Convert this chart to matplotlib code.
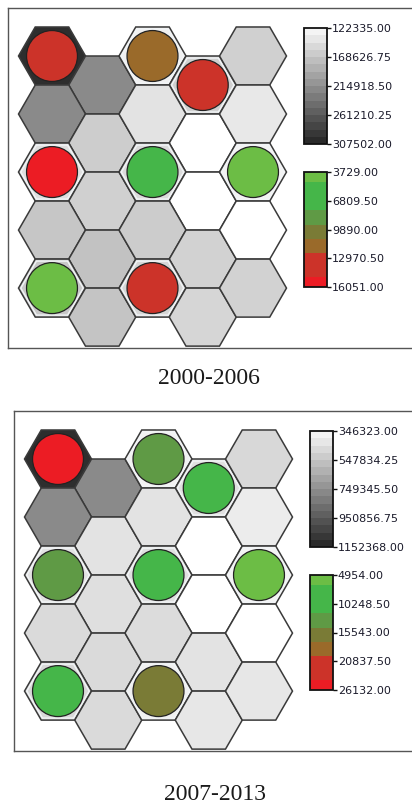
import numpy as np
import matplotlib
matplotlib.use("Agg")
import matplotlib.pyplot as plt
from matplotlib.patches import RegularPolygon, Circle
from matplotlib.colors import LinearSegmentedColormap, ListedColormap, Normalize

# --- data -------------------------------------------------------------
periods = ["2000-2006", "2007-2013"]

# distance (gray) range per period
gray_range_1 = (122335.00, 307502.00)
gray_range_2 = (346323.00, 1152368.00)

# count (green-red) range per period
count_range_1 = (3729.00, 16051.00)
count_range_2 = (4954.00, 26132.00)

# node distance values, rows x cols (None = empty node)
gray_1 = [
    [303800, 219500, 126000, 155300, 155300],
    [219500, 158100, 137900, None,   133300],
    [142500, 155300, 146200, None,   123500],
    [164500, 168200, 159000, 153500, None],
    [162700, 166400, 150000, 150000, 153500],
]
gray_2 = [
    [1136200, 769500, 354400, 426100, 458200],
    [769500,  418100, 418100, None,   378600],
    [418100,  434200, 426100, None,   348000],
    [450300,  450300, 442200, 418100, None],
    [458200,  450300, 362400, 402000, 402000],
]

# node hit counts, rows x cols (None = no circle)
count_1 = [
    [13600, None, 11700, 13900, None],
    [None,  None, None,  None,  None],
    [15800, None, 6200,  None,  4000],
    [None,  None, None,  None,  None],
    [4100,  None, 13200, None,  None],
]
count_2 = [
    [25600, None, 13200, 8500, None],
    [None,  None, None,  None, None],
    [13400, None, 8800,  None, 5800],
    [None,  None, None,  None, None],
    [9200,  None, 16000, None, None],
]

# --- colour maps --------------------------------------------------------
gray_cmap = LinearSegmentedColormap.from_list("dist", ["#f4f4f4", "#2a2a2a"])
count_colors = (["#6cbd45"] * 2 + ["#45b649"] * 6 + ["#5f9a45"] * 3 +
                ["#7a7b36"] * 3 + ["#9a6a2a"] * 3 + ["#cc3329"] * 5 +
                ["#ec1c24"] * 2)
count_cmap = ListedColormap(count_colors)

W, H = 412, 806
fig = plt.figure(figsize=(W / 100, H / 100), dpi=100)

R = 1.0            # hex circumradius in data units
SCALE = 33.5       # pixels per data unit
S3 = np.sqrt(3)


def px_rect(x, y, w, h):
    return [x / W, 1 - (y + h) / H, w / W, h / H]


def draw_panel(x0, y0, grays, counts, grange, crange, title, title_dy):
    fw, fh = 404, 340
    ax = fig.add_axes(px_rect(x0, y0, fw, fh))
    ax.set_xlim(-44 / SCALE, (fw - 44) / SCALE)
    ax.set_ylim(48 / SCALE - fh / SCALE, 48 / SCALE)
    ax.set_xticks([])
    ax.set_yticks([])
    for side in ["left", "top", "bottom"]:
        ax.spines[side].set_color("#555555")
        ax.spines[side].set_linewidth(1.0)
    ax.spines["right"].set_visible(False)

    gnorm = Normalize(*grange)
    cnorm = Normalize(*crange)
    for r in range(5):
        for c in range(5):
            cx = 1.5 * R * c
            cy = -S3 * R * (r + 0.5 * (c % 2))
            g = grays[r][c]
            fill = "white" if g is None else gray_cmap(gnorm(g))
            ax.add_patch(RegularPolygon((cx, cy), 6, radius=R,
                                        orientation=np.pi / 6,
                                        facecolor=fill, edgecolor="#3a3a3a",
                                        linewidth=1.1))
            v = counts[r][c]
            if v is not None:
                if g is None or gnorm(g) < 0.5:
                    ax.add_patch(RegularPolygon((cx, cy), 6, radius=0.93 * R,
                                                orientation=np.pi / 6,
                                                facecolor="none",
                                                edgecolor="#f2f5f7",
                                                linewidth=1.0))
                ax.add_patch(Circle((cx, cy), 0.76 * R,
                                    facecolor=count_cmap(cnorm(v)),
                                    edgecolor="#222222", linewidth=0.9))

    # legends
    for dy, h, cmap, norm in [(20, 116, gray_cmap.resampled(16), gnorm),
                              (164, 115, count_cmap, cnorm)]:
        cax = fig.add_axes(px_rect(x0 + 296, y0 + dy, 23, h))
        sm = plt.cm.ScalarMappable(norm=norm, cmap=cmap)
        cb = fig.colorbar(sm, cax=cax, ticks=np.linspace(norm.vmin, norm.vmax, 5),
                          format="%.2f")
        cax.invert_yaxis()
        cb.outline.set_linewidth(1.3)
        cb.outline.set_edgecolor("#111111")
        cax.tick_params(length=3, width=1, pad=0.5, labelsize=8,
                        colors="#111111", labelcolor="#1a1a2a")

    fig.text((x0 + 201) / W, 1 - (y0 + title_dy) / H, title,
             family="Liberation Serif", fontsize=17, color="#1a1a1a",
             ha="center", va="center")


draw_panel(8, 8, gray_1, count_1, gray_range_1, count_range_1, periods[0], 371)
draw_panel(14, 411, gray_2, count_2, gray_range_2, count_range_2, periods[1], 384)

fig.savefig("out.png", dpi=100)
